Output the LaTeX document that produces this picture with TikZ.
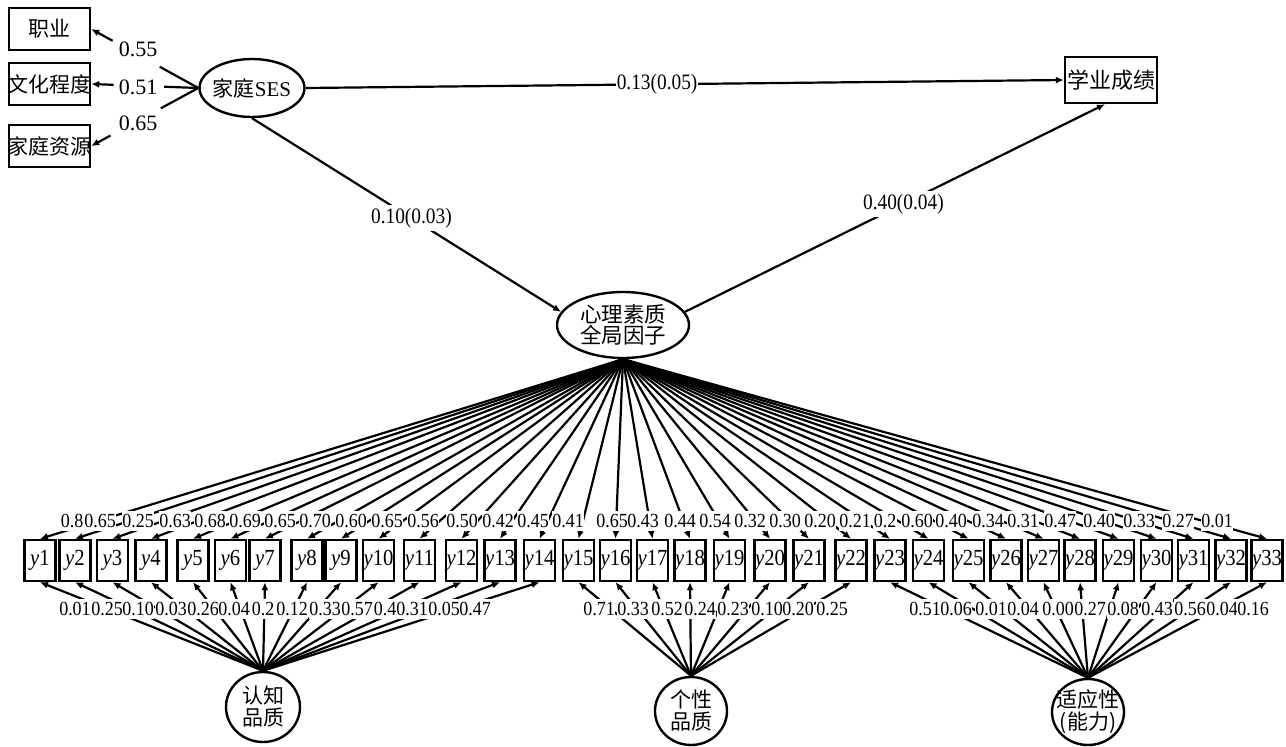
\documentclass[tikz,border=0pt]{standalone}
\usepackage{fontspec}
\setmainfont{Liberation Serif}
\newfontfamily\cjk{Noto Sans CJK SC}
\newfontfamily\nf[FakeStretch=0.9]{Liberation Serif}
\newfontfamily\nfb[FakeStretch=0.88]{Liberation Serif}
\usetikzlibrary{shapes.geometric,arrows.meta,calc}
\begin{document}
\begin{tikzpicture}[x=1pt,y=-1pt,
 arr/.style={line width=2.2pt,-{Latex[length=8pt,width=7pt]}},
 ln/.style={line width=2.2pt},
 box/.style={draw,line width=2.4pt,rectangle,inner sep=0pt},
 ybox/.style={box,minimum width=31pt,minimum height=41pt,font=\nf\fontsize{23}{23}\selectfont},
 ell/.style={draw,line width=2.4pt,ellipse,inner sep=0pt},
 lab/.style={fill=white,inner xsep=0.5pt,inner ysep=3pt,font=\nf\fontsize{20}{20}\selectfont},
 plab/.style={fill=white,inner xsep=1pt,inner ysep=3pt,font=\nfb\fontsize{22}{22}\selectfont},
 slab/.style={fill=white,inner xsep=1pt,inner ysep=2pt,font=\rmfamily\fontsize{22}{22}\selectfont},
 txt/.style={font=\cjk\fontsize{21}{21.5}\selectfont,align=center,inner sep=0pt},
 txt2/.style={font=\cjk\fontsize{21}{22}\selectfont,align=center,inner sep=0pt}
]
\useasboundingbox (0,0) rectangle (1286,747);
% indicator boxes
\node[box,minimum width=81pt,minimum height=42pt,label={[txt]center:职业}] (occ) at (49.5,29) {};
\node[box,minimum width=81pt,minimum height=42pt,label={[txt]center:文化程度}] (edu) at (49.5,84) {};
\node[box,minimum width=81pt,minimum height=42pt,label={[txt]center:家庭资源}] (res) at (49.5,146) {};
\node[box,minimum width=92pt,minimum height=46pt,label={[txt,font=\cjk\fontsize{22}{22}\selectfont]center:学业成绩}] (ach) at (1111,80) {};
% latent factors
\node[ell,minimum width=105pt,minimum height=58pt,label={[txt]center:家庭{\rmfamily SES}}] (ses) at (252,88) {};
\node[ell,minimum width=132pt,minimum height=66pt,label={[txt,font=\cjk\fontsize{21.5}{21}\selectfont]center:心理素质\\全局因子}] (glob) at (623,325) {};
\node[ell,minimum width=74pt,minimum height=70pt,label={[txt2]center:认知\\品质}] (cog) at (263,707) {};
\node[ell,minimum width=72pt,minimum height=68pt,label={[txt2]center:个性\\品质}] (per) at (691,711) {};
\node[ell,minimum width=72pt,minimum height=66pt,label={[txt2]center:适应性\\(能力)}] (ada) at (1088,712) {};
% observed y boxes
\foreach \x [count=\i] in {40,75,112.5,151,193,230.5,265,307,341,378.5,419.5,461.5,500,539.5,578.5,615.5,652.5,690,729.5,770,809,851,890,928.5,968.5,1006,1043.5,1080,1118.5,1156.5,1193.5,1231,1267}
  \node[ybox] (y\i) at (\x,560.5) {\textit{y}\i};
% SES indicators (lines broken around labels)
\draw[ln] (ses.west) -- ($(ses.west)!0.36!(occ.east)$);
\draw[arr] ($(ses.west)!0.8!(occ.east)$) -- (occ.east);
\draw[ln] (ses.west) -- ($(ses.west)!0.32!(edu.east)$);
\draw[arr] ($(ses.west)!0.79!(edu.east)$) -- (edu.east);
\draw[ln] (ses.west) -- ($(ses.west)!0.35!(res.east)$);
\draw[arr] ($(ses.west)!0.82!(res.east)$) -- (res.east);
\node[slab] (l55) at (138,49) {0.55};
\node[slab] (l51) at (138,87) {0.51};
\node[slab] (l65) at (138,123) {0.65};
% structural paths
\draw[arr] (ses.east) -- node[plab,pos=0.4635] (p1) {0.13(0.05)} (ach.west);
\draw[arr] (ses.south) -- node[plab,pos=0.516] (p2) {0.10(0.03)} (glob.168);
\draw[arr] (glob.12) -- node[plab,pos=0.52] (p3) {0.40(0.04)} ($(ach.south)+(-6,0)$);
% global factor loadings
\foreach \i in {1,...,33}
  \draw[arr] (glob.south) -- (y\i.north);
% specific factor loadings
\foreach \i in {1,...,14}
  \draw[arr] (cog.north) -- (y\i.south);
\foreach \i in {15,...,22}
  \draw[arr] (per.north) -- (y\i.south);
\foreach \i in {23,...,33}
  \draw[arr] (ada.north) -- (y\i.south);
% top labels
\foreach \x/\t [count=\i] in {72/0.8,100/0.65,138/0.25,175/0.63,210/0.68,245/0.69,280/0.65,315/0.70,351/0.60,387/0.65,423/0.56,462/0.50,498/0.42,533/0.45,568/0.41,612/0.65,643/0.43,680/0.44,715/0.54,750/0.32,785/0.30,820/0.20,855/0.21,885/0.2,917/0.60,951/0.40,988/0.34,1023/0.31,1060/0.47,1099/0.40,1139/0.33,1178/0.27,1217/0.01}
  \node[lab] (g\i) at (\x,521) {\t};
% bottom labels
\foreach \x/\t [count=\i] in {75/0.01,107/0.25,138/0.10,171/0.03,203/0.26,234/0.04,263/0.2,292/0.12,325/0.33,357/0.57,385/0.4,412/0.31,444/0.05,475/0.47,599/0.71,633/0.33,667/0.52,700/0.24,733/0.23,767/0.10,798/0.20,832/0.25,925/0.51,956/0.06,991/0.01,1023/0.04,1058/0.00,1090/0.27,1123/0.08,1157/0.43,1190/0.56,1222/0.04,1253/0.16}
  \node[lab] (s\i) at (\x,609) {\t};
\end{tikzpicture}
\end{document}
